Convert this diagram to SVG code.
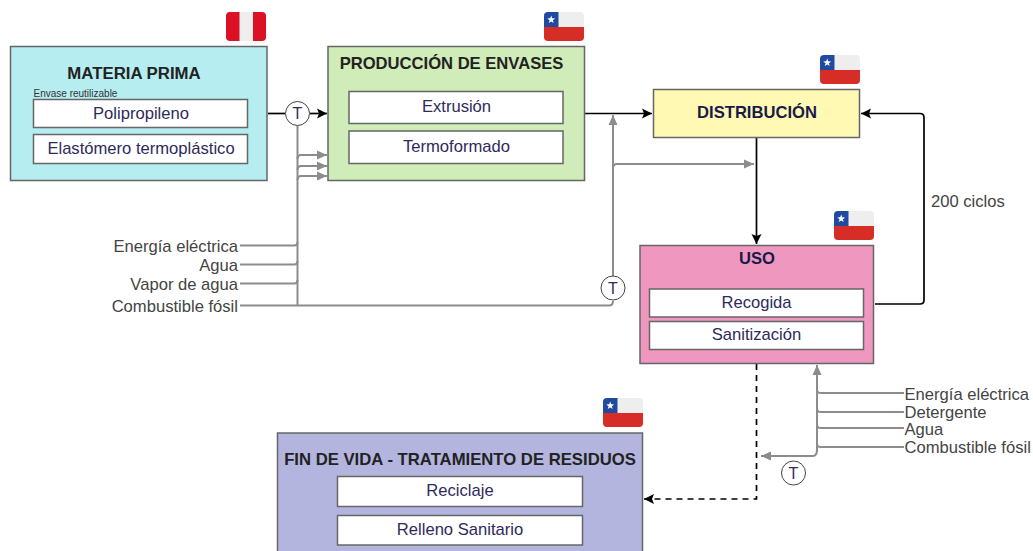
<svg xmlns="http://www.w3.org/2000/svg" width="1033" height="551" viewBox="0 0 1033 551">
<style>
text{font-family:"Liberation Sans",Arial,sans-serif;font-size:16.600px}
.box{stroke:#666;stroke-width:1.5}
.inner{fill:#fff;stroke:#666;stroke-width:1.5}
.in{fill:#2e2a5c;text-anchor:middle}
.title{font-weight:bold;fill:#222;text-anchor:middle}
.lab{fill:#444}
.r{text-anchor:end}
.k{fill:none;stroke:#000;stroke-width:1.700}
.g{fill:none;stroke:#8c8c8c;stroke-width:2}
.t{fill:#fff;stroke:#444;stroke-width:1}
.tt{fill:#2e2a5c;text-anchor:middle;font-size:16px}
</style>
<defs>
<marker id="ak" markerWidth="12" markerHeight="12" refX="10" refY="6" orient="auto" markerUnits="userSpaceOnUse"><path d="M0 1L10 6L0 11L2 6Z" fill="#000"/></marker>
<marker id="ag" markerWidth="12" markerHeight="10" refX="10" refY="5" orient="auto" markerUnits="userSpaceOnUse"><path d="M0 0.500L10 5L0 9.500L0 5Z" fill="#8c8c8c"/></marker>
<clipPath id="fc"><rect width="40" height="29" rx="4"/></clipPath>
<g id="chile" clip-path="url(#fc)"><rect width="40" height="15" fill="#eee"/><rect y="15" width="40" height="14" fill="#d62d27"/><rect width="14.500" height="15" fill="#1f4aa0"/><path d="M7.200 3.500l1 2.800 3 .1-2.400 1.800.9 2.900-2.500-1.700-2.500 1.700.9-2.900-2.400-1.800 3-.1Z" fill="#fff"/></g>
</defs>
<rect width="1033" height="551" fill="#fff"/>
<g id="connectors">
<path class="k" d="M268 113.500H285"/>
<path class="k" d="M310 113.500H327" marker-end="url(#ak)"/>
<path class="g" d="M297.500 126V306"/>
<path class="g" d="M297.500 159Q297.500 155 301 155H327" marker-end="url(#ag)"/>
<path class="g" d="M297.500 170Q297.500 166 301 166H327" marker-end="url(#ag)"/>
<path class="g" d="M297.500 180Q297.500 176 301 176H327" marker-end="url(#ag)"/>
<path class="g" d="M240 245.500H294Q297.500 245.500 297.500 242"/>
<path class="g" d="M240 264.500H294Q297.500 264.500 297.500 261"/>
<path class="g" d="M240 283.500H294Q297.500 283.500 297.500 280"/>
<path class="g" d="M240 305.500H609Q613 305.500 613 301"/>
<path class="g" d="M613 276V115" marker-end="url(#ag)"/>
<path class="g" d="M613 168Q613 164 617 164H754" marker-end="url(#ag)"/>
<path class="k" d="M585 113.500H652" marker-end="url(#ak)"/>
<path class="k" d="M756.500 138V244" marker-end="url(#ak)"/>
<path class="k" d="M875 304H920Q924 304 924 300V117.500Q924 113.500 920 113.500H861" marker-end="url(#ak)"/>
<path class="k" d="M756.500 364V499H644" stroke-dasharray="6 5" marker-end="url(#ak)"/>
<path class="g" d="M817 452V365" marker-end="url(#ag)"/>
<path class="g" d="M817 449Q817 456 813 456H761" marker-end="url(#ag)"/>
<path class="g" d="M904 393H821Q817 393 817 390"/>
<path class="g" d="M904 412H821Q817 412 817 409"/>
<path class="g" d="M904 428H821Q817 428 817 425"/>
<path class="g" d="M904 447H821Q817 447 817 444"/>
</g>
<g id="materia-prima">
<rect class="box" x="10.500" y="46.500" width="256.500" height="134" fill="#b5edf0"/>
<text class="title" x="134" y="78.500" style="font-size:16.800px">MATERIA PRIMA</text>
<text x="33.500" y="96.500" style="font-size:10px" fill="#333">Envase reutilizable</text>
<rect class="inner" x="33.500" y="99.500" width="214" height="28"/>
<text class="in" x="141" y="118.500">Polipropileno</text>
<rect class="inner" x="33.500" y="134.500" width="214" height="29"/>
<text class="in" x="141" y="153.500">Elastómero termoplástico</text>
</g>
<g id="produccion">
<rect class="box" x="328" y="46.500" width="256.500" height="134" fill="#d0ecb8"/>
<text class="title" x="451.500" y="68.500" style="font-size:16.600px">PRODUCCIÓN DE ENVASES</text>
<rect class="inner" x="349" y="91.500" width="214" height="32"/>
<text class="in" x="456.500" y="111.500">Extrusión</text>
<rect class="inner" x="349" y="131" width="214" height="32.500"/>
<text class="in" x="456.500" y="151.500">Termoformado</text>
</g>
<g id="distribucion">
<rect class="box" x="653.500" y="89.500" width="206" height="48" fill="#fff9b3"/>
<text class="title" x="757" y="117.500" style="font-size:16.600px;fill:#1a1a4a">DISTRIBUCIÓN</text>
</g>
<g id="uso">
<rect class="box" x="640" y="245.500" width="233.500" height="118" fill="#f097bf"/>
<text class="title" x="757" y="264" style="font-size:16.600px;fill:#1a1a4a">USO</text>
<rect class="inner" x="649.500" y="289" width="214" height="28"/>
<text class="in" x="756.500" y="307.500">Recogida</text>
<rect class="inner" x="649.500" y="321.500" width="214" height="28"/>
<text class="in" x="756.500" y="339.500">Sanitización</text>
</g>
<g id="fin-de-vida">
<rect class="box" x="277.500" y="433" width="365" height="125" fill="#b3b5df"/>
<text class="title" x="460" y="465" style="font-size:16.700px">FIN DE VIDA - TRATAMIENTO DE RESIDUOS</text>
<rect class="inner" x="337.500" y="476.500" width="245" height="30"/>
<text class="in" x="460" y="496">Reciclaje</text>
<rect class="inner" x="337.500" y="515.500" width="245" height="29.500"/>
<text class="in" x="460" y="535">Relleno Sanitario</text>
</g>
<g id="flags">
<g id="flag-peru"><rect x="226" y="12" width="40" height="29" rx="4" fill="#dc1125"/><rect x="239.500" y="12" width="13.500" height="29" fill="#eee"/></g>
<use href="#chile" x="544" y="12"/>
<use href="#chile" x="820" y="55"/>
<use href="#chile" x="834" y="211"/>
<use href="#chile" x="603" y="398"/>
</g>
<g id="t1"><circle class="t" cx="297.500" cy="113.500" r="12"/><text class="tt" x="297.500" y="119">T</text></g>
<g id="t2"><circle class="t" cx="613" cy="288" r="12"/><text class="tt" x="613" y="293.500">T</text></g>
<g id="t3"><circle class="t" cx="793.500" cy="473" r="12"/><text class="tt" x="793.500" y="478.500">T</text></g>
<g id="labels">
<text class="lab r" x="238" y="251.500">Energía eléctrica</text>
<text class="lab r" x="238" y="270.500">Agua</text>
<text class="lab r" x="238" y="289.500">Vapor de agua</text>
<text class="lab r" x="238" y="312">Combustible fósil</text>
<text class="lab" x="931" y="206.500">200 ciclos</text>
<text class="lab" x="904.500" y="399.500">Energía eléctrica</text>
<text class="lab" x="904.500" y="418">Detergente</text>
<text class="lab" x="904.500" y="434.500">Agua</text>
<text class="lab" x="904.500" y="453">Combustible fósil</text>
</g>
</svg>
